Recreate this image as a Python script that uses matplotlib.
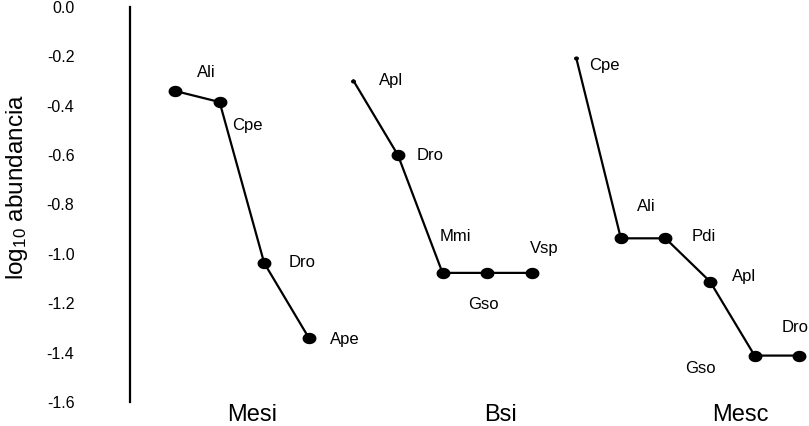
import numpy as np
import matplotlib
matplotlib.use("Agg")
import matplotlib.pyplot as plt
from matplotlib.transforms import blended_transform_factory

plt.rcParams["font.family"] = ["Liberation Sans", "DejaVu Sans"]
plt.rcParams["mathtext.fontset"] = "custom"
plt.rcParams["mathtext.rm"] = "Liberation Sans"
plt.rcParams["mathtext.default"] = "regular"
plt.rcParams["axes.unicode_minus"] = False

# data
groups = ["Mesi", "Bsi", "Mesc"]
mesi_species = ["Ali", "Cpe", "Dro", "Ape"]
mesi_values = [-0.34, -0.385, -1.037, -1.34]
bsi_species = ["Apl", "Dro", "Mmi", "Gso", "Vsp"]
bsi_values = [-0.298, -0.60, -1.077, -1.077, -1.077]
mesc_species = ["Cpe", "Ali", "Pdi", "Apl", "Gso", "Dro"]
mesc_values = [-0.207, -0.937, -0.937, -1.112, -1.412, -1.412]
yticks = [0.0, -0.2, -0.4, -0.6, -0.8, -1.0, -1.2, -1.4, -1.6]

# label offsets (pixels) for each point name
mesi_off = [(31, 18), (28, -23), (38, 1), (36, -2)]
bsi_off = [(38, 0), (32, 0), (13, 36), (-4, -32), (13, 24)]
mesc_off = [(28, -7), (25, 32), (38, 2), (34, 5), (-54, -13), (-4, 28)]
group_x = [1.74, 7.29, 12.69]

# slightly flattened dot, like the original
t = np.linspace(0, 2 * np.pi, 40)
dot = np.column_stack([np.cos(t), 0.82 * np.sin(t)])

fig = plt.figure(figsize=(8.09, 4.26), dpi=100)
ax = fig.add_axes([130 / 809, 1 - 402 / 426, 1 - 130 / 809, 395 / 426])

start = 0
for names, vals, offs in [(mesi_species, mesi_values, mesi_off),
                          (bsi_species, bsi_values, bsi_off),
                          (mesc_species, mesc_values, mesc_off)]:
    x = np.arange(start, start + len(vals))
    ax.plot(x, vals, color="black", lw=1.6, zorder=2)
    sizes = [10] * len(vals)
    if start > 0:
        sizes[0] = 3.6
    for xi, yi, s in zip(x, vals, sizes):
        ax.plot(xi, yi, marker=dot, color="black", ms=s, mew=0,
                clip_on=False, zorder=3)
    for xi, yi, name, off in zip(x, vals, names, offs):
        ax.annotate(name, (xi, yi), xytext=off, textcoords="offset pixels",
                    ha="center", va="center", fontsize=12, clip_on=False)
    start += len(vals)

ax.set_xlim(-1.01, 14.22)
ax.set_ylim(-1.6, 0.0)
ax.set_yticks(yticks)
ax.set_yticklabels(["%.1f" % v for v in yticks])
ax.tick_params(axis="y", length=0, pad=40, labelsize=11.5)
ax.set_xticks([])
for side in ["top", "right", "bottom"]:
    ax.spines[side].set_visible(False)
ax.spines["left"].set_linewidth(1.6)
ax.patch.set_alpha(0)

trans = blended_transform_factory(ax.transData, ax.transAxes)
for gx, g in zip(group_x, groups):
    ax.text(gx, -13 / 395, g, transform=trans, ha="center", va="center",
            fontsize=17)

fig.text(17 / 809, 1 - 187 / 426, r"log$_{10}$ abundancia", rotation=90,
         ha="center", va="center", fontsize=17.5)

fig.savefig("out.png", dpi=100)
